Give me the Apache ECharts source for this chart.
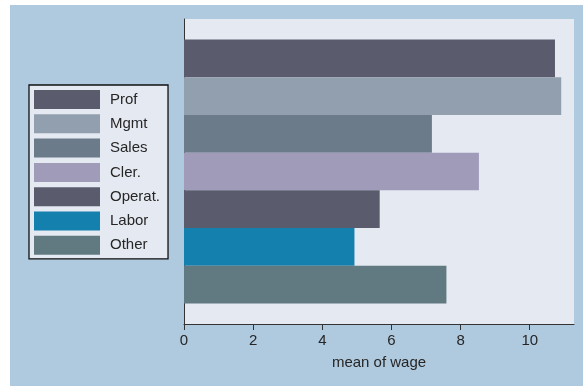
<!DOCTYPE html>
<html>
<head>
<meta charset="utf-8">
<script src="https://cdn.jsdelivr.net/npm/echarts@6/dist/echarts.min.js"></script>
<style>
html,body{margin:0;padding:0;background:#ffffff;}
#wrap{position:absolute;left:10px;top:5px;width:573px;height:381px;}
</style>
</head>
<body>
<div id="wrap"></div>
<script>
const categories = ["Prof", "Mgmt", "Sales", "Cler.", "Operat.", "Labor", "Other"];
const wageMeans = [10.73, 10.91, 7.17, 8.53, 5.66, 4.93, 7.59];
const barColors = ["#5a5c6e", "#929fae", "#6b7b8a", "#a19bba", "#5a5c6e", "#1480ae", "#617a82"];
const xTicks = [0, 2, 4, 6, 8, 10];
const axisTitle = "mean of wage";

const font = "'Liberation Sans', Arial, Helvetica, sans-serif";
const chart = echarts.init(document.getElementById('wrap'), null, {renderer: 'canvas'});
const series = categories.map((name, i) => ({
  name: name,
  type: 'bar',
  data: [wageMeans[i]],
  itemStyle: {color: barColors[i]},
  barGap: '0%',
  barCategoryGap: '13.4%',
  animation: false
}));
chart.setOption({
  animation: false,
  backgroundColor: '#afc9de',
  textStyle: {fontFamily: font},
  grid: {left: 174, right: 9, top: 14, bottom: 62, show: true, backgroundColor: '#e5e9f1', borderWidth: 0},
  legend: {
    orient: 'vertical',
    left: 19, top: 80,
    itemWidth: 66, itemHeight: 19, itemGap: 5.3,
    padding: [5, 8, 4, 5],
    backgroundColor: '#e5e9f1',
    borderColor: '#111111', borderWidth: 1.3,
    icon: 'rect',
    textStyle: {fontSize: 15, color: '#262626', fontFamily: font, padding: [0, 0, 0, 5]},
    data: categories
  },
  xAxis: {
    type: 'value', min: 0, max: 11.28,
    name: axisTitle, nameLocation: 'middle', nameGap: 31,
    nameTextStyle: {fontSize: 15, color: '#262626', fontFamily: font},
    splitLine: {show: false},
    axisLine: {show: true, lineStyle: {color: '#333333', width: 1}},
    axisTick: {show: true, length: 6, customValues: xTicks, lineStyle: {color: '#333333'}},
    axisLabel: {customValues: xTicks, fontSize: 15, color: '#262626', margin: 9, fontFamily: font}
  },
  yAxis: {
    type: 'category', data: [''], inverse: true,
    axisLine: {show: true, lineStyle: {color: '#333333', width: 1}},
    axisTick: {show: false}, axisLabel: {show: false}, splitLine: {show: false}
  },
  series: series
});
</script>
</body>
</html>
